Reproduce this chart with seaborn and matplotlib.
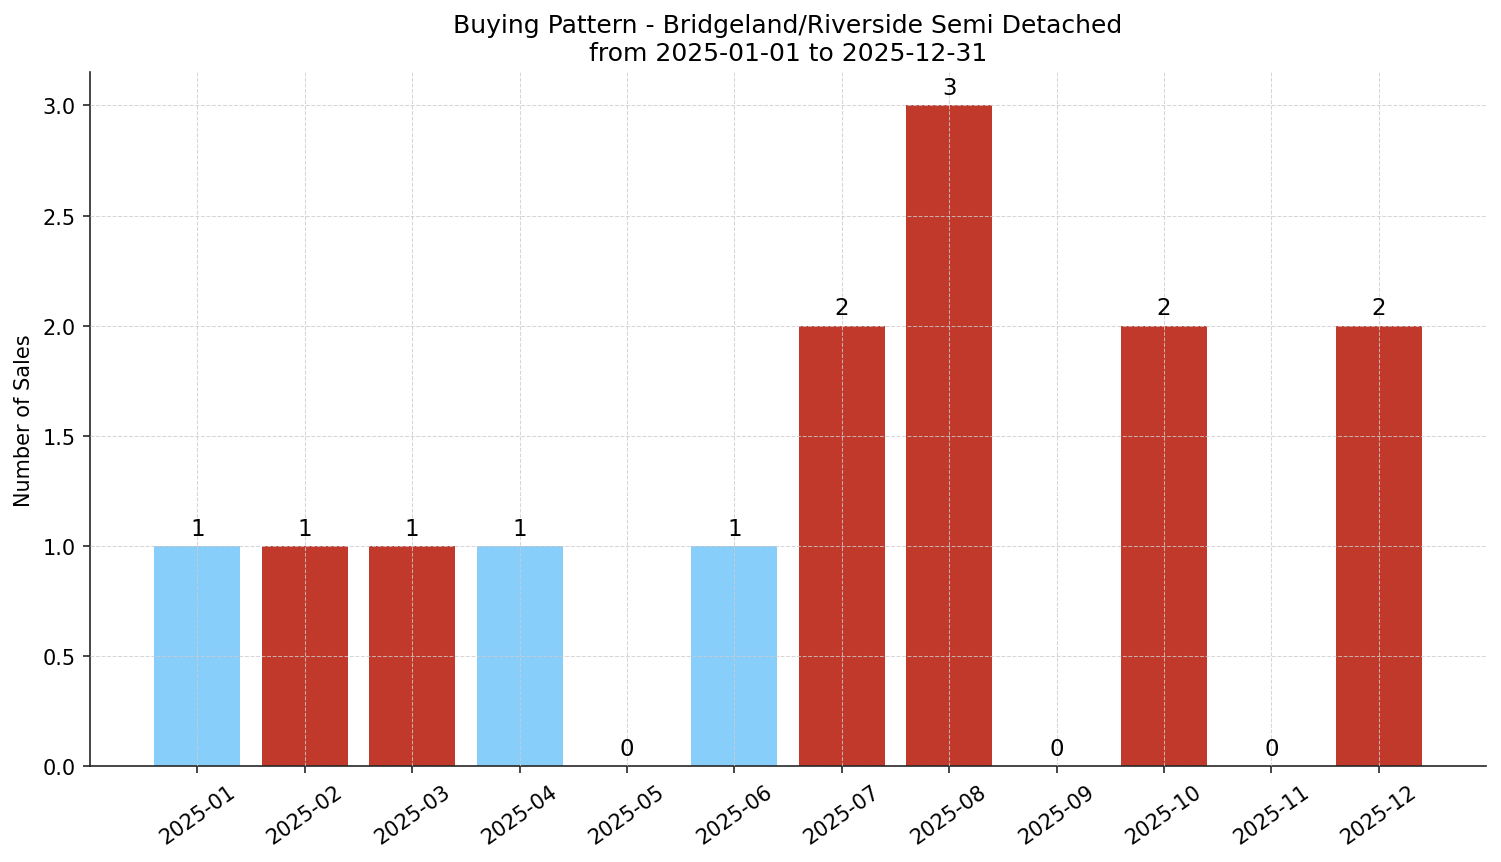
import matplotlib
matplotlib.use("Agg")
import matplotlib.pyplot as plt
import seaborn as sns
import pandas as pd

# monthly sales counts
months = ["2025-01", "2025-02", "2025-03", "2025-04", "2025-05", "2025-06",
          "2025-07", "2025-08", "2025-09", "2025-10", "2025-11", "2025-12"]
sales = [1, 1, 1, 1, 0, 1, 2, 3, 0, 2, 0, 2]
group = ["low", "high", "high", "low", "low", "low",
         "high", "high", "high", "high", "high", "high"]

palette = {"low": "#87CEFA", "high": "#C0392B"}

sns.set_style("ticks")
plt.rcParams['font.family'] = ['DejaVu Sans']
plt.rcParams['text.color'] = 'black'
plt.rcParams['axes.labelcolor'] = 'black'
plt.rcParams['xtick.labelcolor'] = 'black'
plt.rcParams['ytick.labelcolor'] = 'black'

df = pd.DataFrame({"Month": months, "Sales": sales, "Group": group})

fig, ax = plt.subplots(figsize=(10.007, 5.753), dpi=150)
sns.barplot(data=df, x="Month", y="Sales", hue="Group", palette=palette,
            dodge=False, width=0.8, saturation=1, legend=False,
            linewidth=0, ax=ax)

for cont in ax.containers:
    ax.bar_label(cont, fmt="%d", padding=3, fontsize=11)

ax.set_xlim(-1, 12)
ax.set_ylim(0, 3.15)
ax.set_axisbelow(False)
ax.grid(True, linestyle="--", linewidth=0.5, color="#cccccc", alpha=0.8)
sns.despine(ax=ax)

ax.set_title("Buying Pattern - Bridgeland/Riverside Semi Detached\nfrom 2025-01-01 to 2025-12-31",
             fontsize=12)
ax.set_xlabel("")
ax.set_ylabel("Number of Sales", fontsize=10)
ax.tick_params(axis="both", labelsize=10)
plt.setp(ax.get_xticklabels(), rotation=35)

fig.subplots_adjust(left=0.060, right=0.990, top=0.915, bottom=0.111)
plt.savefig("out.png", dpi=150)
